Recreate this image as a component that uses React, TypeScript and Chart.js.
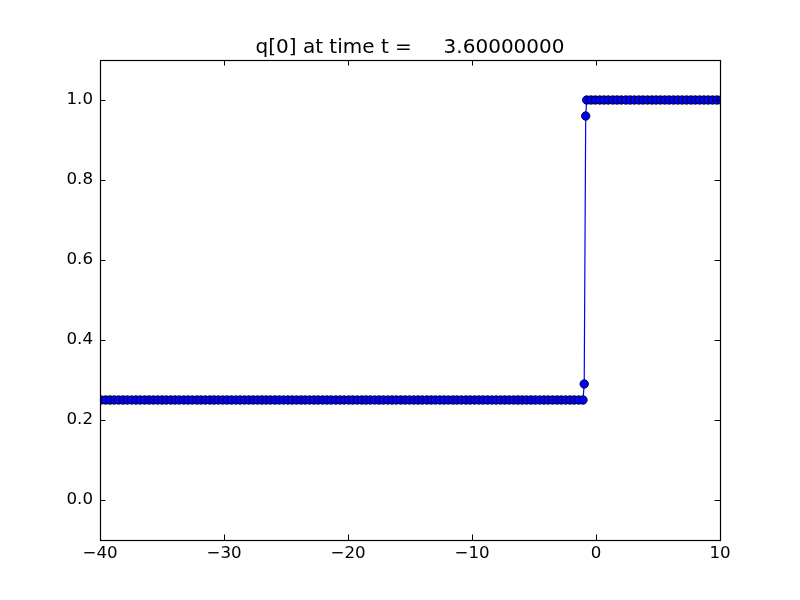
import React, { useEffect, useRef } from "react";
import { Chart, registerables } from "chart.js";

Chart.register(...registerables);

const titleText = "q[0] at time t =     3.60000000";

// cell centers on the low (left) state
const xLow = [
  -40.25, -39.9, -39.55, -39.2, -38.85, -38.5, -38.15, -37.8, -37.45, -37.1,
  -36.75, -36.4, -36.05, -35.7, -35.35, -35.0, -34.65, -34.3, -33.95, -33.6,
  -33.25, -32.9, -32.55, -32.2, -31.85, -31.5, -31.15, -30.8, -30.45, -30.1,
  -29.75, -29.4, -29.05, -28.7, -28.35, -28.0, -27.65, -27.3, -26.95, -26.6,
  -26.25, -25.9, -25.55, -25.2, -24.85, -24.5, -24.15, -23.8, -23.45, -23.1,
  -22.75, -22.4, -22.05, -21.7, -21.35, -21.0, -20.65, -20.3, -19.95, -19.6,
  -19.25, -18.9, -18.55, -18.2, -17.85, -17.5, -17.15, -16.8, -16.45, -16.1,
  -15.75, -15.4, -15.05, -14.7, -14.35, -14.0, -13.65, -13.3, -12.95, -12.6,
  -12.25, -11.9, -11.55, -11.2, -10.85, -10.5, -10.15, -9.8, -9.45, -9.1,
  -8.75, -8.4, -8.05, -7.7, -7.35, -7.0, -6.65, -6.3, -5.95, -5.6,
  -5.25, -4.9, -4.55, -4.2, -3.85, -3.5, -3.15, -2.8, -2.45, -2.1,
  -1.75, -1.4, -1.05,
];
const qLow = 0.25;

// transition cells
const xMid = [-0.95, -0.83];
const qMid = [0.29, 0.96];

// cell centers on the high (right) state
const xHigh = [
  -0.75, -0.4, -0.05, 0.3, 0.65, 1.0, 1.35, 1.7, 2.05, 2.4, 2.75, 3.1, 3.45,
  3.8, 4.15, 4.5, 4.85, 5.2, 5.55, 5.9, 6.25, 6.6, 6.95, 7.3, 7.65, 8.0, 8.35,
  8.7, 9.05, 9.4, 9.75, 10.1,
];
const qHigh = 1.0;

const xTicks = [-40, -30, -20, -10, 0, 10];
const yTicks = [0.0, 0.2, 0.4, 0.6, 0.8, 1.0];
const xRange = [-40, 10];
const yRange = [-0.1, 1.1];

const FONT = "'DejaVu Sans', sans-serif";

export default function App() {
  const ref = useRef<HTMLCanvasElement | null>(null);

  useEffect(() => {
    const canvas = ref.current;
    if (!canvas) return;

    const points = [
      ...xLow.map((x) => ({ x, y: qLow })),
      ...xMid.map((x, i) => ({ x, y: qMid[i] })),
      ...xHigh.map((x) => ({ x, y: qHigh })),
    ];

    const framePlugin = {
      id: "frame",
      afterDatasetsDraw(chart: any) {
        const { ctx, chartArea } = chart;
        const { left, right, top, bottom } = chartArea;
        const xs = chart.scales.x;
        const ys = chart.scales.y;
        const tl = 5.5;
        ctx.save();
        ctx.strokeStyle = "#000";
        ctx.lineWidth = 1;
        ctx.beginPath();
        for (const v of xTicks) {
          const px = Math.round(xs.getPixelForValue(v)) + 0.5;
          ctx.moveTo(px, bottom);
          ctx.lineTo(px, bottom - tl);
          ctx.moveTo(px, top);
          ctx.lineTo(px, top + tl);
        }
        for (const v of yTicks) {
          const py = Math.round(ys.getPixelForValue(v)) + 0.5;
          ctx.moveTo(left, py);
          ctx.lineTo(left + tl, py);
          ctx.moveTo(right, py);
          ctx.lineTo(right - tl, py);
        }
        ctx.stroke();
        ctx.lineWidth = 1.2;
        ctx.strokeRect(left + 0.5, top + 0.5, right - left, bottom - top);
        // title
        ctx.fillStyle = "#000";
        ctx.font = `20px ${FONT}`;
        ctx.textAlign = "center";
        ctx.textBaseline = "alphabetic";
        ctx.fillText(titleText, (left + right) / 2, top - 7);
        ctx.restore();
      },
    };

    const chart = new Chart(canvas, {
      type: "scatter",
      data: {
        datasets: [
          {
            data: points,
            showLine: true,
            borderColor: "#0000ff",
            borderWidth: 1.2,
            backgroundColor: "#0000ff",
            pointRadius: 4.2,
            pointBackgroundColor: "#0000ff",
            pointBorderColor: "#000000",
            pointBorderWidth: 0.9,
            clip: 0,
            tension: 0,
          } as any,
        ],
      },
      options: {
        responsive: false,
        animation: false,
        events: [],
        layout: { padding: { left: 40, right: 80, top: 60, bottom: 20 } },
        plugins: {
          legend: { display: false },
          tooltip: { enabled: false },
          title: { display: false },
        },
        scales: {
          x: {
            type: "linear",
            min: xRange[0],
            max: xRange[1],
            grid: { display: false, drawTicks: false },
            border: { display: false },
            afterBuildTicks: (s: any) => {
              s.ticks = xTicks.map((v) => ({ value: v }));
            },
            afterFit: (s: any) => {
              s.height = 40;
            },
            ticks: {
              autoSkip: false,
              maxRotation: 0,
              padding: 4,
              color: "#000",
              font: { family: FONT, size: 16.67 },
              callback: (v: any) => String(v).replace("-", "\u2212"),
            },
          },
          y: {
            type: "linear",
            min: yRange[0],
            max: yRange[1],
            grid: { display: false, drawTicks: false },
            border: { display: false },
            afterBuildTicks: (s: any) => {
              s.ticks = yTicks.map((v) => ({ value: v }));
            },
            afterFit: (s: any) => {
              s.width = 60;
            },
            ticks: {
              autoSkip: false,
              padding: 7,
              color: "#000",
              font: { family: FONT, size: 16.67 },
              callback: (v: any) => Number(v).toFixed(1).replace("-", "\u2212"),
            },
          },
        },
      } as any,
      plugins: [framePlugin],
    });

    return () => chart.destroy();
  }, []);

  return (
    <div style={{ position: "fixed", left: 0, top: 0, width: 800, height: 600, background: "#fff" }}>
      <canvas ref={ref} width={800} height={600} style={{ display: "block" }} />
    </div>
  );
}
